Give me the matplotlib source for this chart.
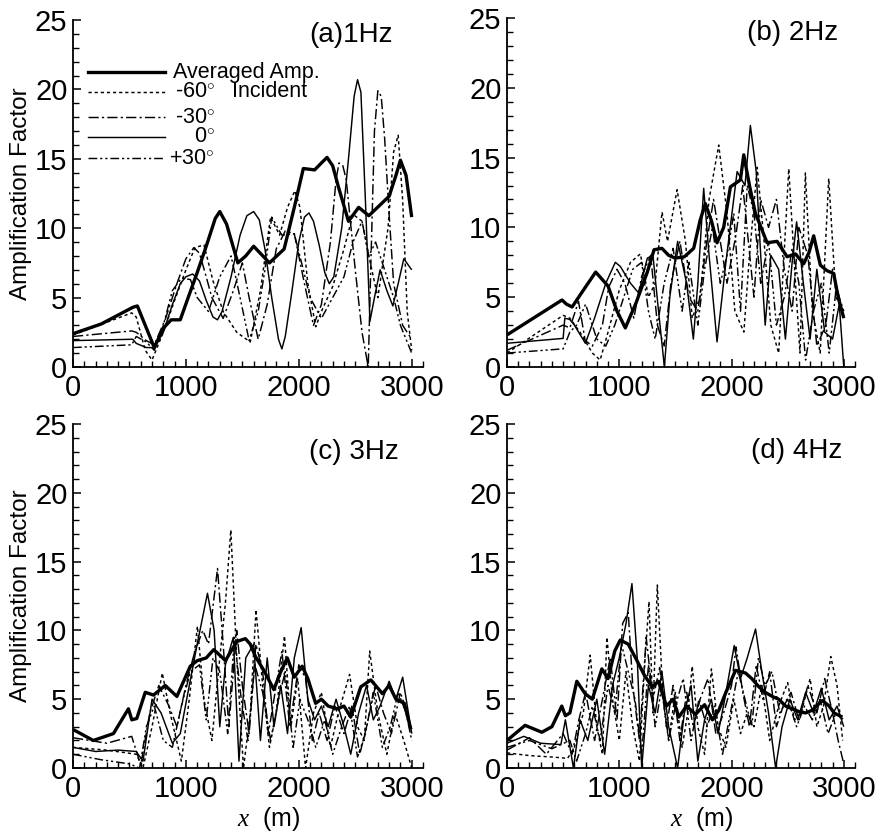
import matplotlib
matplotlib.use("Agg")
import matplotlib.pyplot as plt
from matplotlib.ticker import MultipleLocator

plt.rcParams['font.family'] = ['Liberation Sans', 'DejaVu Sans']
plt.rcParams['mathtext.fontset'] = 'custom'
plt.rcParams['mathtext.it'] = 'Liberation Serif:italic'
plt.rcParams['mathtext.rm'] = 'Liberation Sans'

# ---------------- data: panel (a) 1 Hz ----------------
a_avg_x = [0, 250, 530, 570, 720, 800, 870, 950, 1020, 1100, 1180, 1260, 1300, 1360, 1460, 1530, 1600, 1670, 1740, 1870, 1960, 2040, 2140, 2200, 2250, 2300, 2350, 2440, 2530, 2620, 2710, 2800, 2860, 2900, 2950, 3000]
a_avg_y = [2.4, 3.1, 4.3, 4.4, 1.4, 2.8, 3.4, 3.4, 5.0, 6.8, 8.7, 10.7, 11.2, 10.3, 7.5, 8.0, 8.7, 8.1, 7.5, 8.5, 11.5, 14.3, 14.2, 14.7, 15.1, 14.5, 13.0, 10.5, 11.5, 10.9, 11.6, 12.3, 13.8, 14.9, 13.8, 10.8]
a_m60_x = [0, 520, 560, 640, 700, 800, 900, 1000, 1080, 1160, 1240, 1330, 1450, 1570, 1660, 1750, 1830, 1900, 1965, 2010, 2080, 2150, 2200, 2300, 2400, 2480, 2560, 2620, 2700, 2790, 2840, 2880, 2920, 2960, 3000]
a_m60_y = [2.3, 3.9, 3.6, 1.2, 0.5, 2.5, 4.8, 7.0, 8.6, 8.8, 6.2, 4.0, 2.5, 1.8, 5.5, 10.8, 9.5, 11.5, 12.7, 11.5, 6.0, 2.9, 4.0, 5.8, 8.5, 11.0, 10.5, 8.0, 5.0, 10.0, 15.5, 16.7, 12.0, 4.0, 1.2]
a_m30_x = [0, 520, 560, 650, 720, 820, 920, 1000, 1070, 1120, 1180, 1230, 1330, 1420, 1500, 1560, 1640, 1720, 1800, 1880, 1960, 2050, 2130, 2200, 2280, 2330, 2356, 2390, 2420, 2500, 2560, 2615, 2640, 2670, 2700, 2730, 2760, 2800, 2840, 2920, 3000]
a_m30_y = [2.2, 2.6, 2.5, 1.9, 1.6, 3.5, 6.0, 7.8, 8.6, 8.2, 6.5, 5.0, 3.5, 5.5, 7.5, 5.0, 2.0, 4.5, 8.5, 9.8, 9.6, 6.0, 3.0, 4.5, 9.0, 13.5, 14.7, 14.5, 13.5, 7.0, 2.5, 0.0, 8.0, 17.0, 19.9, 19.5, 16.5, 11.0, 6.0, 3.0, 2.0]
a_0_x = [0, 530, 560, 650, 720, 800, 880, 950, 1000, 1060, 1120, 1180, 1240, 1280, 1320, 1400, 1480, 1540, 1600, 1650, 1700, 1760, 1820, 1850, 1880, 1940, 2000, 2050, 2090, 2130, 2180, 2230, 2270, 2310, 2380, 2440, 2490, 2520, 2550, 2590, 2630, 2670, 2720, 2780, 2833, 2880, 2930, 3000]
a_0_y = [1.9, 2.0, 1.7, 1.4, 1.4, 2.5, 4.5, 6.0, 6.5, 6.7, 6.2, 4.8, 3.6, 3.4, 4.0, 6.5, 9.5, 10.9, 11.2, 10.6, 8.5, 5.0, 2.0, 1.3, 2.2, 5.5, 9.0, 10.8, 11.1, 10.5, 8.8, 6.8, 6.0, 6.5, 10.0, 15.0, 19.5, 20.7, 19.8, 12.0, 3.3, 5.0, 7.0, 5.5, 4.4, 6.0, 7.8, 7.0]
a_p30_x = [0, 520, 560, 650, 720, 800, 880, 960, 1040, 1100, 1200, 1300, 1400, 1480, 1560, 1640, 1700, 1760, 1850, 1960, 2040, 2100, 2200, 2300, 2400, 2480, 2560, 2620, 2680, 2760, 2840, 2900, 2960, 3000]
a_p30_y = [1.4, 1.6, 2.2, 1.8, 1.2, 3.0, 5.5, 6.4, 6.3, 5.0, 4.0, 6.5, 8.0, 5.0, 1.9, 4.0, 7.0, 10.8, 9.5, 9.6, 7.0, 5.0, 3.5, 5.0, 6.5, 9.0, 10.5, 8.0, 9.0, 7.0, 5.0, 3.0, 1.8, 1.0]

# ---------------- data: panel (b) 2 Hz ----------------
b_avg_x = [0, 490, 530, 580, 680, 790, 900, 980, 1054, 1150, 1250, 1310, 1380, 1440, 1500, 1580, 1663, 1720, 1767, 1820, 1871, 1930, 1990, 2079, 2109, 2160, 2213, 2317, 2406, 2495, 2569, 2643, 2690, 2732, 2791, 2850, 2910, 2950, 3000]
b_avg_y = [2.3, 4.8, 4.5, 4.3, 5.5, 6.8, 5.8, 4.0, 2.8, 4.6, 6.8, 8.4, 8.5, 8.0, 7.8, 7.9, 8.5, 10.5, 11.7, 10.5, 8.9, 10.0, 12.9, 13.4, 15.2, 13.0, 11.0, 8.9, 9.0, 7.9, 8.1, 7.4, 8.2, 9.4, 7.3, 6.9, 6.7, 5.0, 3.5]
b_m60_x = [0, 500, 560, 650, 760, 830, 900, 1000, 1100, 1188, 1260, 1320, 1381, 1430, 1515, 1590, 1650, 1720, 1800, 1886, 1960, 2030, 2110, 2160, 2229, 2290, 2350, 2420, 2510, 2570, 2610, 2658, 2720, 2790, 2866, 2930, 3000]
b_m60_y = [1.0, 3.7, 3.5, 2.5, 1.0, 0.5, 2.5, 5.5, 7.5, 8.1, 5.0, 6.0, 11.1, 9.0, 12.7, 9.0, 3.5, 5.0, 12.0, 15.9, 11.0, 4.0, 2.5, 8.0, 14.3, 9.0, 3.0, 1.0, 14.2, 6.0, 1.0, 13.9, 4.0, 1.0, 13.5, 5.0, 4.0]
b_m30_x = [0, 500, 560, 637, 696, 760, 850, 905, 980, 1050, 1130, 1200, 1280, 1340, 1400, 1460, 1540, 1620, 1700, 1780, 1840, 1900, 1960, 2040, 2100, 2150, 2200, 2260, 2330, 2400, 2470, 2540, 2600, 2680, 2760, 2840, 2900, 2960, 3000]
b_m30_y = [1.2, 3.0, 2.8, 4.7, 1.9, 1.5, 3.0, 5.7, 7.0, 6.0, 3.5, 6.5, 8.0, 3.0, 1.5, 6.0, 9.0, 5.0, 4.0, 9.0, 12.0, 9.0, 6.0, 9.5, 13.0, 9.0, 5.0, 12.0, 10.0, 12.0, 7.0, 4.0, 10.0, 8.0, 1.5, 3.0, 7.0, 5.0, 4.0]
b_0_x = [0, 500, 515, 560, 600, 698, 780, 880, 965, 1010, 1100, 1173, 1250, 1300, 1350, 1402, 1450, 1520, 1600, 1660, 1700, 1752, 1800, 1871, 1950, 2050, 2120, 2168, 2220, 2260, 2300, 2350, 2420, 2480, 2540, 2580, 2640, 2700, 2760, 2830, 2900, 2960, 3000]
b_0_y = [1.7, 2.05, 3.5, 3.4, 3.0, 1.7, 3.5, 6.0, 7.5, 7.2, 6.0, 5.3, 7.8, 8.0, 4.0, 0.0, 5.0, 9.0, 6.0, 2.0, 6.0, 12.8, 8.0, 1.8, 7.5, 14.0, 13.0, 17.3, 14.0, 8.0, 3.0, 8.0, 7.0, 2.0, 7.5, 10.4, 6.0, 2.0, 7.0, 2.5, 2.0, 4.5, 0.0]
b_p30_x = [0, 500, 560, 620, 700, 800, 880, 960, 1040, 1120, 1200, 1260, 1320, 1400, 1480, 1560, 1620, 1700, 1760, 1830, 1900, 1960, 2020, 2080, 2140, 2200, 2260, 2330, 2400, 2470, 2540, 2600, 2660, 2730, 2800, 2870, 2930, 3000]
b_p30_y = [1.0, 1.3, 2.5, 3.0, 4.5, 2.0, 1.5, 3.0, 5.0, 7.0, 7.5, 4.0, 2.0, 6.0, 8.5, 4.0, 7.5, 3.0, 7.0, 10.0, 6.0, 8.0, 11.0, 4.0, 13.0, 11.0, 6.0, 9.0, 3.0, 5.0, 8.5, 6.0, 0.5, 4.0, 6.0, 1.0, 5.5, 3.5]

# ---------------- data: panel (c) 3 Hz ----------------
c_avg_x = [0, 180, 358, 491, 521, 565, 640, 713, 817, 920, 1039, 1100, 1180, 1246, 1300, 1350, 1400, 1453, 1527, 1570, 1616, 1690, 1779, 1840, 1898, 1960, 2030, 2080, 2149, 2200, 2260, 2342, 2400, 2460, 2549, 2638, 2700, 2741, 2800, 2860, 2934, 2993]
c_avg_y = [2.8, 2.0, 2.5, 4.3, 3.5, 3.6, 5.5, 5.3, 6.0, 5.2, 7.4, 7.8, 8.0, 8.6, 8.2, 7.8, 8.5, 9.2, 9.4, 9.0, 8.1, 7.1, 5.7, 7.0, 8.0, 6.6, 7.4, 6.5, 4.7, 5.0, 4.5, 4.3, 4.5, 3.7, 5.9, 6.4, 5.8, 5.4, 6.0, 5.0, 4.7, 2.8]
c_m60_x = [0, 300, 560, 620, 700, 791, 860, 960, 1030, 1102, 1160, 1230, 1300, 1350, 1398, 1450, 1510, 1570, 1621, 1680, 1740, 1800, 1873, 1930, 1990, 2060, 2130, 2200, 2280, 2350, 2450, 2520, 2580, 2628, 2700, 2780, 2850, 2930, 3000]
c_m60_y = [1.5, 1.3, 1.0, 0.0, 3.0, 6.9, 4.0, 0.5, 5.0, 10.3, 5.0, 2.0, 8.0, 12.0, 17.3, 8.0, 0.0, 4.0, 11.5, 6.0, 1.5, 4.0, 9.6, 3.0, 6.5, 0.0, 4.0, 5.5, 1.5, 4.0, 6.8, 3.0, 2.0, 8.5, 4.0, 1.0, 4.0, 2.0, 0.0]
c_m30_x = [0, 300, 520, 600, 680, 760, 850, 920, 1000, 1080, 1150, 1200, 1280, 1330, 1380, 1450, 1500, 1560, 1620, 1680, 1730, 1800, 1850, 1920, 2000, 2060, 2120, 2180, 2250, 2320, 2400, 2470, 2540, 2600, 2680, 2750, 2820, 2900, 2960, 3000]
c_m30_y = [2.2, 1.8, 2.3, 0.2, 4.0, 6.0, 4.5, 3.0, 6.0, 8.5, 10.0, 9.0, 14.5, 9.0, 3.0, 10.0, 6.0, 2.5, 9.0, 7.0, 2.5, 6.0, 8.5, 3.0, 7.5, 6.5, 2.0, 4.0, 2.0, 4.5, 2.5, 4.5, 1.0, 3.0, 6.0, 4.0, 2.5, 5.5, 4.0, 2.5]
c_0_x = [0, 200, 400, 560, 620, 700, 780, 880, 950, 1030, 1100, 1191, 1250, 1300, 1350, 1420, 1470, 1530, 1600, 1660, 1720, 1780, 1840, 1900, 1960, 2021, 2080, 2140, 2200, 2260, 2330, 2400, 2460, 2530, 2600, 2660, 2720, 2800, 2860, 2920, 3000]
c_0_y = [1.5, 1.2, 1.3, 1.2, 0.5, 5.0, 4.0, 1.8, 2.5, 6.0, 9.0, 12.7, 10.0, 3.0, 7.5, 9.5, 0.5, 8.0, 9.0, 2.0, 8.0, 3.0, 6.0, 2.5, 8.0, 10.2, 5.0, 3.5, 4.5, 3.0, 5.0, 3.0, 1.0, 4.0, 6.0, 3.5, 4.5, 6.3, 5.0, 6.6, 2.5]
c_p30_x = [0, 250, 500, 590, 650, 720, 800, 880, 960, 1040, 1120, 1180, 1240, 1300, 1370, 1430, 1490, 1550, 1610, 1680, 1750, 1820, 1880, 1950, 2010, 2080, 2150, 2230, 2300, 2380, 2450, 2520, 2590, 2660, 2740, 2810, 2880, 2950, 3000]
c_p30_y = [1.0, 0.6, 0.3, 0.0, 3.0, 4.5, 2.0, 1.5, 4.5, 7.0, 7.5, 3.5, 8.0, 7.0, 2.5, 9.5, 5.0, 2.0, 7.5, 5.5, 2.0, 5.0, 7.0, 1.5, 5.0, 3.5, 1.5, 3.5, 1.0, 3.0, 4.5, 0.8, 2.5, 5.5, 1.5, 3.0, 5.5, 4.0, 2.0]

# ---------------- data: panel (d) 4 Hz ----------------
d_avg_x = [0, 161, 310, 400, 488, 520, 560, 622, 696, 760, 845, 900, 960, 1009, 1080, 1158, 1220, 1292, 1350, 1420, 1480, 1530, 1600, 1680, 1760, 1830, 1887, 1950, 2036, 2125, 2180, 2244, 2300, 2363, 2420, 2482, 2540, 2601, 2660, 2720, 2810, 2870, 2914, 2988]
d_avg_y = [2.0, 3.1, 2.6, 3.0, 4.5, 3.8, 4.0, 6.3, 5.4, 5.0, 7.2, 6.5, 8.5, 9.3, 9.0, 7.8, 6.8, 5.9, 6.3, 4.5, 5.0, 3.7, 4.5, 3.9, 4.6, 3.5, 4.2, 5.5, 7.1, 6.9, 6.5, 5.9, 5.5, 5.2, 5.0, 4.5, 4.3, 4.1, 4.0, 4.2, 4.9, 4.5, 4.0, 3.7]
d_m60_x = [0, 200, 400, 540, 600, 680, 741, 800, 850, 890, 940, 1000, 1060, 1120, 1180, 1230, 1265, 1300, 1339, 1390, 1440, 1500, 1560, 1610, 1650, 1700, 1760, 1821, 1880, 1950, 2020, 2080, 2140, 2200, 2270, 2340, 2420, 2500, 2560, 2620, 2700, 2760, 2820, 2884, 2940, 2990]
d_m60_y = [1.1, 0.9, 0.8, 0.7, 1.5, 4.0, 8.2, 3.0, 1.0, 9.5, 5.0, 2.0, 7.0, 3.0, 0.5, 8.0, 12.1, 4.0, 13.3, 5.0, 2.0, 5.5, 1.5, 4.0, 7.4, 3.0, 1.0, 7.2, 3.0, 1.5, 5.0, 2.5, 4.0, 3.0, 6.0, 2.0, 4.5, 6.2, 3.5, 4.0, 6.5, 3.0, 4.5, 8.1, 6.0, 2.0]
d_m30_x = [0, 200, 350, 500, 580, 640, 700, 780, 850, 920, 980, 1030, 1080, 1120, 1180, 1240, 1300, 1360, 1420, 1480, 1540, 1600, 1660, 1720, 1790, 1860, 1930, 2000, 2040, 2100, 2160, 2220, 2280, 2340, 2400, 2460, 2530, 2600, 2680, 2760, 2830, 2900, 2950, 3000]
d_m30_y = [1.3, 2.2, 1.0, 2.5, 1.0, 3.5, 5.5, 2.0, 5.0, 8.0, 3.5, 10.5, 11.3, 6.0, 2.0, 9.5, 5.0, 7.3, 3.0, 6.0, 2.0, 5.5, 3.0, 5.0, 6.5, 2.5, 4.0, 6.0, 8.8, 5.5, 3.0, 7.5, 5.0, 7.0, 3.0, 4.5, 5.5, 3.5, 6.0, 4.0, 6.5, 4.0, 2.0, 0.3]
d_0_x = [0, 150, 300, 480, 520, 592, 650, 720, 800, 870, 940, 1000, 1060, 1113, 1160, 1200, 1260, 1320, 1380, 1440, 1520, 1580, 1640, 1700, 1760, 1820, 1880, 1940, 2024, 2080, 2140, 2214, 2270, 2330, 2393, 2450, 2520, 2590, 2660, 2730, 2800, 2870, 2940, 3000]
d_0_y = [1.8, 2.3, 1.8, 1.7, 3.5, 0.0, 3.5, 2.0, 5.0, 1.0, 6.0, 8.0, 10.5, 13.4, 8.0, 0.0, 6.0, 4.0, 7.0, 3.0, 0.0, 4.0, 6.0, 0.5, 3.5, 5.0, 2.5, 5.0, 8.9, 6.5, 8.0, 10.1, 7.0, 4.0, 0.0, 3.0, 5.0, 3.5, 5.5, 4.0, 5.8, 3.5, 4.5, 3.0]
d_p30_x = [0, 200, 400, 560, 620, 700, 760, 830, 900, 960, 1020, 1080, 1140, 1200, 1260, 1320, 1380, 1440, 1500, 1570, 1640, 1710, 1780, 1850, 1920, 1990, 2060, 2120, 2180, 2240, 2300, 2360, 2430, 2500, 2580, 2650, 2720, 2790, 2860, 2930, 3000]
d_p30_y = [1.5, 2.0, 1.4, 2.0, 0.5, 2.5, 4.5, 2.0, 6.0, 4.0, 9.0, 7.0, 5.0, 1.0, 7.5, 3.0, 6.0, 2.0, 4.5, 6.5, 2.0, 5.0, 3.0, 4.5, 1.0, 4.0, 7.0, 5.0, 3.0, 8.0, 6.0, 7.0, 4.0, 5.0, 3.0, 4.5, 3.5, 5.0, 2.5, 4.0, 3.5]

panel_titles = ["(a)1Hz", "(b) 2Hz", "(c) 3Hz", "(d) 4Hz"]
legend_labels = ["Averaged Amp.", "-60$^{\\circ}$", "-30$^{\\circ}$", "0$^{\\circ}$", "+30$^{\\circ}$"]
y_ticks = [0, 5, 10, 15, 20, 25]
x_ticks = [0, 1000, 2000, 3000]

# ---------------- styles ----------------
THIN = 1.05
STY_AVG = dict(color='black', lw=2.4, ls='-')
STY_M60 = dict(color='black', lw=THIN, ls=(0, (2.2, 2.0)))
STY_M30 = dict(color='black', lw=THIN, ls=(0, (7, 2.2, 1.5, 2.2)))
STY_0 = dict(color='black', lw=THIN, ls='-')
STY_P30 = dict(color='black', lw=THIN, ls=(0, (6, 2, 1.5, 2, 1.5, 2)))
styles = [STY_AVG, STY_M60, STY_M30, STY_0, STY_P30]

fig = plt.figure(figsize=(8.78, 8.34), dpi=100)
W, H = 878.0, 834.0
# axes rectangles (pixels): left, bottom-pixel-row, right(x=3100), top-pixel-row
rects = [(73, 367, 423, 20), (507, 367, 855, 18), (73, 768, 423, 424), (507, 768, 855, 424)]

panels = [
    [(a_avg_x, a_avg_y), (a_m60_x, a_m60_y), (a_m30_x, a_m30_y), (a_0_x, a_0_y), (a_p30_x, a_p30_y)],
    [(b_avg_x, b_avg_y), (b_m60_x, b_m60_y), (b_m30_x, b_m30_y), (b_0_x, b_0_y), (b_p30_x, b_p30_y)],
    [(c_avg_x, c_avg_y), (c_m60_x, c_m60_y), (c_m30_x, c_m30_y), (c_0_x, c_0_y), (c_p30_x, c_p30_y)],
    [(d_avg_x, d_avg_y), (d_m60_x, d_m60_y), (d_m30_x, d_m30_y), (d_0_x, d_0_y), (d_p30_x, d_p30_y)],
]
title_pos = [(0.914, 0.958), (0.951, 0.958), (0.93, 0.918), (0.963, 0.922)]

axes = []
for i, (l, b, r, t) in enumerate(rects):
    ax = fig.add_axes([l / W, 1 - b / H, (r - l) / W, (b - t) / H])
    axes.append(ax)
    order = [1, 2, 3, 4, 0]
    for k in order:
        xs, ys = panels[i][k]
        ax.plot(xs, ys, solid_capstyle='butt', dash_capstyle='butt',
                solid_joinstyle='round', **styles[k])
    ax.set_xlim(0, 3100)
    ax.set_ylim(0, 25)
    ax.spines['top'].set_visible(False)
    ax.spines['right'].set_visible(False)
    for s in ('left', 'bottom'):
        ax.spines[s].set_linewidth(1.3)
    ax.set_xticks(x_ticks)
    ax.set_yticks(y_ticks)
    ax.xaxis.set_minor_locator(MultipleLocator(100))
    ax.yaxis.set_minor_locator(MultipleLocator(1))
    ax.tick_params(which='major', direction='in', length=6, width=1.1, labelsize=21, pad=5)
    ax.tick_params(which='minor', direction='in', length=4, width=1.0)
    ax.tick_params(axis='y', which='major', pad=4)
    ax.text(title_pos[i][0], title_pos[i][1], panel_titles[i], transform=ax.transAxes,
            ha='right', va='center', fontsize=20)
    if i in (0, 2):
        ax.set_ylabel("Amplification Factor", fontsize=17.5)
        ax.yaxis.set_label_coords(-0.117, 0.5)
    if i in (2, 3):
        ax.set_xlabel("$x$  (m)", fontsize=18)
        ax.xaxis.set_label_coords(0.56, -0.108)

# legend drawn in panel (a)
ax = axes[0]
rows_y = [0.850, 0.793, 0.720, 0.663, 0.602]
for k in range(5):
    ax.plot([0.043, 0.263], [rows_y[k], rows_y[k]], transform=ax.transAxes,
            dash_capstyle='butt', **styles[k])
ax.text(0.286, rows_y[0], legend_labels[0], transform=ax.transAxes, ha='left', va='center', fontsize=15.5)
for k in range(1, 5):
    ax.text(0.405, rows_y[k], legend_labels[k], transform=ax.transAxes, ha='right', va='center', fontsize=15.5)
ax.text(0.454, rows_y[1], "Incident", transform=ax.transAxes, ha='left', va='center', fontsize=15.5)

fig.savefig("out.png", dpi=100)
